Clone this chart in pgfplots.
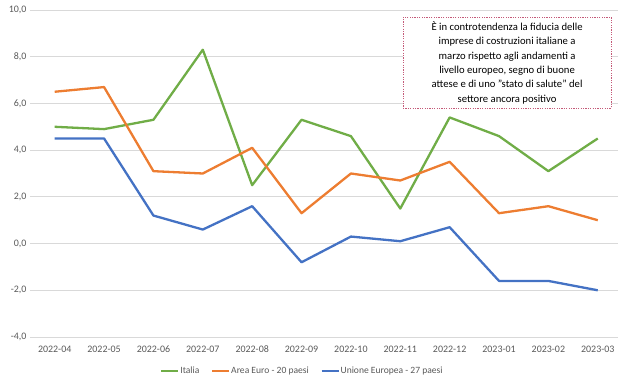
\documentclass[border=0pt]{standalone}
\usepackage{pgfplots}
\pgfplotsset{compat=1.18}
\usepackage{fontspec}
\setmainfont{Carlito}
\definecolor{cIt}{HTML}{70AD47}
\definecolor{cEu}{HTML}{ED7D31}
\definecolor{cUe}{HTML}{4472C4}
\definecolor{txt}{HTML}{595959}
\definecolor{grd}{HTML}{D9D9D9}
\definecolor{box}{HTML}{C45A78}
\begin{document}
\begin{tikzpicture}
\useasboundingbox (0,0) rectangle (618bp,379bp);
\begin{axis}[
  at={(30bp,42bp)}, anchor=south west,
  width=589bp, height=327bp, scale only axis,
  xmin=-0.5, xmax=11.43, ymin=-4, ymax=10,
  ytick={-4,-2,0,2,4,6,8,10},
  xtick={0,...,11},
  xticklabels={2022-04,2022-05,2022-06,2022-07,2022-08,2022-09,2022-10,2022-11,2022-12,2023-01,2023-02,2023-03},
  /pgf/number format/assume math mode=true,
  /pgf/number format/.cd, fixed, fixed zerofill, precision=1, use comma, 1000 sep={},
  /pgfplots/.cd,
  ymajorgrids, grid style={grd, line width=0.75bp},
  axis line style={draw=none},
  major tick length=0pt,
  tick label style={font=\fontsize{10}{12}\selectfont, text=txt},
  yticklabel style={xshift=0bp},
  xticklabel style={anchor=base, yshift=-16bp},
  legend style={at={(0.462,-0.104)}, anchor=center, draw=none, fill=none,
    legend columns=-1, font=\fontsize{9.6}{12}\selectfont, text=txt,
    /tikz/every odd column/.append style={column sep=0bp},
    /tikz/every even column/.append style={column sep=11bp},
    nodes={inner sep=1bp}},
  legend image code/.code={\draw[#1, line width=1.8bp] (0bp,0bp) -- (17bp,0bp);},
  every axis plot/.append style={line width=2.3bp, line join=round},
]
\addplot[cIt] coordinates {(0,5.0)(1,4.9)(2,5.3)(3,8.3)(4,2.5)(5,5.3)(6,4.6)(7,1.5)(8,5.4)(9,4.6)(10,3.1)(11,4.5)};
\addplot[cEu] coordinates {(0,6.5)(1,6.7)(2,3.1)(3,3.0)(4,4.1)(5,1.3)(6,3.0)(7,2.7)(8,3.5)(9,1.3)(10,1.6)(11,1.0)};
\addplot[cUe] coordinates {(0,4.5)(1,4.5)(2,1.2)(3,0.6)(4,1.6)(5,-0.8)(6,0.3)(7,0.1)(8,0.7)(9,-1.6)(10,-1.6)(11,-2.0)};
\legend{Italia, Area Euro - 20 paesi, Unione Europea - 27 paesi}
\node[draw=box, dash pattern=on 1.2bp off 1.2bp, line width=0.8bp, fill=white,
  minimum width=208bp, minimum height=91bp, align=center,
  font=\fontsize{10.7}{14.4}\selectfont, text=black, inner sep=2bp]
  at (rel axis cs:0.81,0.839) {È in controtendenza la fiducia delle\\ imprese di costruzioni italiane a\\ marzo rispetto agli andamenti a\\ livello europeo, segno di buone\\ attese e di uno "stato di salute" del\\ settore ancora positivo};
\end{axis}
\end{tikzpicture}
\end{document}
